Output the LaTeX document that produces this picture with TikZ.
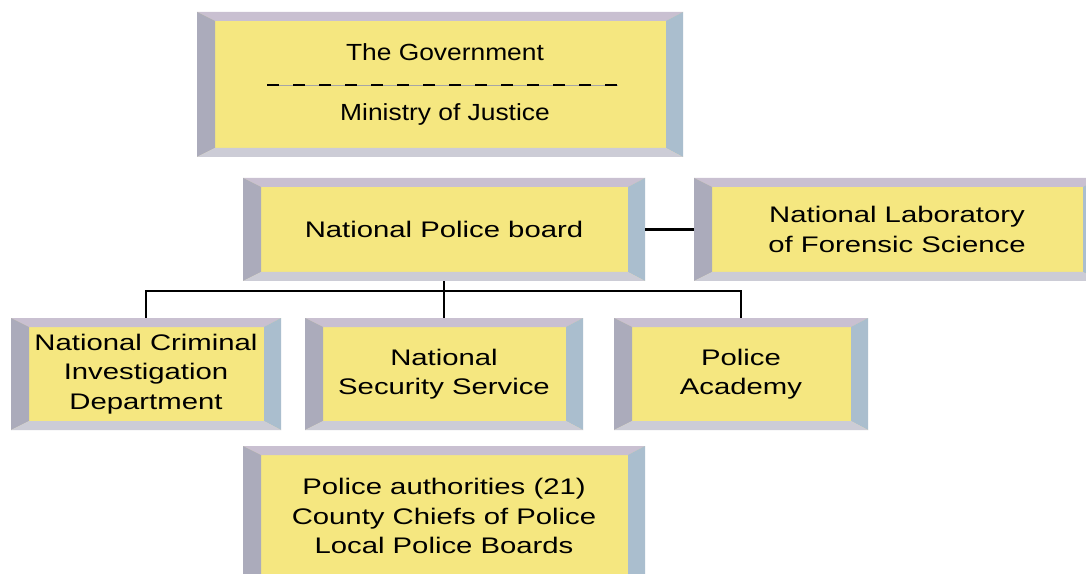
\documentclass[tikz,border=0pt]{standalone}
\usepackage{fontspec}
\usepackage{xcolor}
\usetikzlibrary{calc}
\newfontfamily\boxfont[FakeStretch=1.3]{Liberation Sans}
\newfontfamily\govfont[FakeStretch=1.13]{Liberation Sans}
\definecolor{boxyellow}{RGB}{245,231,128}
\definecolor{bevtop}{RGB}{201,192,209}
\definecolor{bevleft}{RGB}{171,171,187}
\definecolor{bevright}{RGB}{170,190,206}
\definecolor{bevbottom}{RGB}{204,204,214}
\tikzset{
    bevel/.style 2 args={rectangle, fill=boxyellow, inner sep=0pt, align=center,
        minimum width=#1, minimum height=#2,
        font=\boxfont\fontsize{16.9}{22}\selectfont,
        path picture={
            \coordinate (bnw) at (path picture bounding box.north west);
            \coordinate (bne) at (path picture bounding box.north east);
            \coordinate (bsw) at (path picture bounding box.south west);
            \coordinate (bse) at (path picture bounding box.south east);
            \coordinate (inw) at ($(bnw)+(13.5pt,-6.75pt)$);
            \coordinate (ine) at ($(bne)+(-12.75pt,-6.75pt)$);
            \coordinate (isw) at ($(bsw)+(13.5pt,6.75pt)$);
            \coordinate (ise) at ($(bse)+(-12.75pt,6.75pt)$);
            \fill[bevtop] (bnw) -- (bne) -- (ine) -- (inw) -- cycle;
            \fill[bevleft] (bnw) -- (inw) -- (isw) -- (bsw) -- cycle;
            \fill[bevright] (bne) -- (ine) -- (ise) -- (bse) -- cycle;
            \fill[bevbottom] (bsw) -- (isw) -- (ise) -- (bse) -- cycle;
        }},
    link/.style={line width=2pt, black}
}
\begin{document}
\begin{tikzpicture}[x=0.75pt, y=-0.75pt]
    \clip (0,0) rectangle (1086,574);
    \fill[white] (0,0) rectangle (1086,574);

    \node[bevel={364.5pt}{108.75pt}] (gov) at (440,84.5) {};
    \node[font=\govfont\fontsize{17.5}{22}\selectfont] (govtext) at (445,52) {The Government};
    \node[font=\govfont\fontsize{17.5}{22}\selectfont] (mojtext) at (445,114) {Ministry of Justice};
    \coordinate (rulel) at (267,85);
    \coordinate (ruler) at (618,85);
    \draw[gray!70, line width=0.4pt] (rulel) -- (ruler);
    \draw[black, line width=1.3pt, dash pattern=on 9pt off 10.5pt] (rulel) -- (ruler);

    \node[bevel={301.5pt}{77.25pt}] (npb) at (444,229.5) {National Police board};
    \node[bevel={304.5pt}{77.25pt}] (nlfs) at (897,229.5) {National Laboratory\\of Forensic Science};

    \node[bevel={202.5pt}{84pt}] (ncid) at (146,374) {National Criminal\\Investigation\\Department};
    \node[bevel={208.5pt}{84pt}] (nss) at (444,374) {National\\Security Service};
    \node[bevel={190.5pt}{84pt}] (pa) at (741,374) {Police\\Academy};

    \node[bevel={301.5pt}{105pt}] (pauth) at (444,516) {Police authorities (21)\\County Chiefs of Police\\Local Police Boards};

    \coordinate (bar) at (444,291);
    \draw[link] (npb.east) -- (nlfs.west)
        (npb.south) -- (nss.north)
        (ncid.north) |- (bar) -| (pa.north);
\end{tikzpicture}
\end{document}
